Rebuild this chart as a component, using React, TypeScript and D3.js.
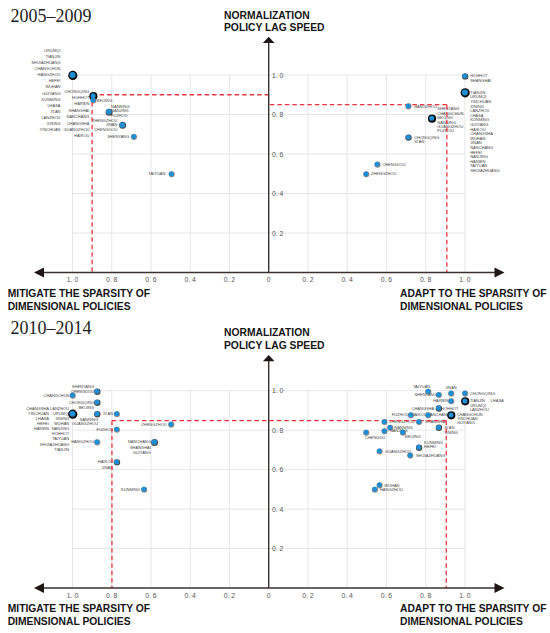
import { useEffect } from 'react';
import * as d3 from 'd3';

// [x value, y value, cities sharing that point]
type Group = [number, number, string[]];

// 2005–2009, mitigate side (plotted to the left)
const leftA: Group[] = [
  [1.0, 1.0, ['URUMQI', 'TIANJIN', 'SHIJIAZHUANG', 'CHANGCHUN', 'HANGZHOU', 'HEFEI', 'WUHAN', 'GUIYANG', 'KUNMING', 'LHASA', "XI'AN", 'LANZHOU', 'XINING', 'YINCHUAN']],
  [0.895, 0.895, ['CHONGQING', 'HOHHOT', 'HARBIN', 'SHANGHAI', 'NANCHANG', 'CHANGSHA', 'GUANGZHOU', 'HAIKOU']],
  [0.895, 0.873, ['BEIJING']],
  [0.815, 0.814, ['NANNING', 'NANJING', 'FUZHOU']],
  [0.746, 0.747, ['ZHENGZHOU', 'JINAN', 'CHENGDOU']],
  [0.688, 0.688, ['SHENYANG']],
  [0.496, 0.499, ['TAIYUAN']],
];

// 2005–2009, adapt side
const rightA: Group[] = [
  [1.0, 0.995, ['HOHHOT', 'SHANGHAI']],
  [1.0, 0.912, ['TIANJIN', 'URUMQI', 'YINCHUAN', 'XINING', 'LANZHOU', 'LHASA', 'KUNMING', 'GUIYANG', 'HAIKOU', 'CHANGSHA', 'WUHAN', 'JINAN', 'NANCHANG', 'HEFEI', 'NANJING', 'HARBIN', 'TAIYUAN', 'SHIJIAZHUANG']],
  [0.711, 0.843, ['HANGZHOU']],
  [0.831, 0.781, ['SHENYANG', 'CHANGCHUN', 'BEIJING', 'NANNING', 'GUANGZHOU', 'FUZHOU']],
  [0.711, 0.685, ['CHONGQING', "XI'AN"]],
  [0.553, 0.548, ['CHENGDOU']],
  [0.496, 0.499, ['ZHENGZHOU']],
];

// 2010–2014, mitigate side
const leftB: Group[] = [
  [0.875, 0.997, ['SHENYANG', 'CHENGDOU']],
  [1.0, 0.977, ['CHANGCHUN']],
  [0.875, 0.941, ['CHONGQING', 'BEIJING']],
  [1.0, 0.883, ['CHANGSHA', 'LANZHOU', 'YINCHUAN', 'URUMQI', 'LHASA', 'XINING', 'HEFEI', 'WUHAN', 'HARBIN', 'NANJING', 'HOHHOT', 'TAIYUAN', 'SHIJIAZHUANG', 'TIANJIN']],
  [0.875, 0.883, ['NANNING', 'GUANGZHOU']],
  [0.775, 0.883, ["XI'AN"]],
  [0.775, 0.804, ['FUZHOU']],
  [0.875, 0.74, ['HANGZHOU']],
  [0.775, 0.639, ['HAIKOU', 'JINAN']],
  [0.498, 0.83, ['ZHENGZHOU']],
  [0.583, 0.74, ['NANCHANG', 'SHANGHAI', 'GUIYANG']],
  [0.636, 0.5, ['KUNMING']],
];

// 2010–2014, adapt side
const rightB: Group[] = [
  [0.812, 0.997, ['TAIYUAN']],
  [0.929, 0.987, ['JINAN']],
  [1.0, 0.987, ['CHONGQING']],
  [0.866, 0.98, ['SHENYANG']],
  [0.929, 0.948, ['HARBIN']],
  [1.0, 0.948, ['TIANJIN', 'LHASA', 'URUMQI', 'LANZHOU']],
  [0.866, 0.912, ['CHANGSHA', 'HOHHOT']],
  [0.724, 0.877, ['FUZHOU']],
  [0.812, 0.877, ['HAIKOU']],
  [0.929, 0.877, ['NANCHANG', 'CHANGCHUN', 'YINCHUAN', 'GUIYANG']],
  [0.589, 0.843, ['ZHENGZHOU']],
  [0.765, 0.843, ['SHANGHAI']],
  [0.618, 0.814, ['NANNING']],
  [0.589, 0.796, ['NANJING']],
  [0.683, 0.789, ['BEIJING']],
  [0.496, 0.789, ['CHENGDU']],
  [0.866, 0.814, ["XI'AN", 'XINING']],
  [0.765, 0.713, ['KUNMING', 'HEFEI']],
  [0.564, 0.694, ['GUANGZHOU']],
  [0.72, 0.673, ['SHIJIAZHUANG']],
  [0.564, 0.522, ['WUHAN']],
  [0.54, 0.5, ['HANGZHOU']],
];

// average reference lines [x, y] for mitigate / adapt sides
const refsA: [number, number][] = [[0.9, 0.9], [0.908, 0.85]];
const refsB: [number, number][] = [[0.799, 0.848], [0.905, 0.848]];

const periods = ['2005–2009', '2010–2014'];
const xTicks = [-5, -4, -3, -2, -1, 0, 1, 2, 3, 4, 5].map(i => i / 5);
const yTicks = [1, 2, 3, 4, 5].map(i => i / 5);

// label placement for each group (same order as the data)
type Lay = { a: 's' | 'e' | 'm'; dx: number; dy?: number; lh?: number; split?: number; sdx?: number; pairs?: number; col?: number };

const layLA: Lay[] = [
  { a: 'e', dx: -12, dy: -24.7, lh: 6.1 },
  { a: 'e', dx: -3.7, dy: -4.7, lh: 6.4 },
  { a: 's', dx: 3.7 },
  { a: 's', dx: 2.3, dy: -5.4, lh: 4.4 },
  { a: 'e', dx: -5, dy: -4.7, lh: 4.5 },
  { a: 'e', dx: -4.4 },
  { a: 'e', dx: -6 },
];
const layRA: Lay[] = [
  { a: 's', dx: 5.3, lh: 4.4 },
  { a: 's', dx: 5.3, lh: 4.6 },
  { a: 's', dx: 6 },
  { a: 's', dx: 5.6, dy: -9.3, lh: 4.4 },
  { a: 's', dx: 6, lh: 4.5 },
  { a: 's', dx: 5 },
  { a: 's', dx: 5 },
];
const layLB: Lay[] = [
  { a: 'e', dx: -3, dy: -5, lh: 5 },
  { a: 'e', dx: -3 },
  { a: 'e', dx: -3, lh: 5.4 },
  { a: 'e', dx: -3.3, dy: -5.4, lh: 5.1, pairs: 5, col: 20.3 },
  { a: 'e', dx: 1, dy: 5.3, lh: 4.7 },
  { a: 'e', dx: -3.5 },
  { a: 'e', dx: -3.5 },
  { a: 'e', dx: -3 },
  { a: 'e', dx: -3.5, lh: 5.3 },
  { a: 'e', dx: -4.3 },
  { a: 'e', dx: -3.5, lh: 5.2 },
  { a: 'e', dx: -4 },
];
const layRB: Lay[] = [
  { a: 'e', dx: 2, dy: -5 },
  { a: 'm', dx: 0, dy: -5.3 },
  { a: 's', dx: 5 },
  { a: 'e', dx: -2 },
  { a: 'e', dx: -2.7 },
  { a: 's', dx: 5, lh: 4.2, pairs: 1, col: 20.7 },
  { a: 's', dx: 2.5, split: 1, sdx: -4.4 },
  { a: 'e', dx: -2.4 },
  { a: 'e', dx: -1 },
  { a: 's', dx: 5.7, lh: 4, split: 1, sdx: -1 },
  { a: 's', dx: 5 },
  { a: 's', dx: 6.3 },
  { a: 's', dx: 4.3 },
  { a: 's', dx: 5.7, dy: -0.6 },
  { a: 's', dx: 2.3, dy: 3.7 },
  { a: 's', dx: -1, dy: 5 },
  { a: 's', dx: 5.6, lh: 5 },
  { a: 's', dx: 5.3, dy: -5.3, lh: 4.3 },
  { a: 's', dx: 5.7 },
  { a: 's', dx: 6 },
  { a: 's', dx: 5 },
  { a: 's', dx: 5.3 },
];

const panels = [
  { title: periods[0], left: leftA, right: rightA, layL: layLA, layR: layRA, refs: refsA, titleY: 21.5, headY: 15, tipY: 36.7, oneY: 75, axisY: 272.5 },
  { title: periods[1], left: leftB, right: rightB, layL: layLB, layR: layRB, refs: refsB, titleY: 333.5, headY: 332.7, tipY: 355, oneY: 390.7, axisY: 588 },
];

const ANCHOR = { s: 'start', e: 'end', m: 'middle' } as const;
const SANS = '"Liberation Sans", Arial, sans-serif';

function placeLabels(names: string[], lay: Lay, px: number, py: number) {
  const out: { t: string; x: number; y: number; a: string }[] = [];
  const lh = lay.lh ?? 4.6;
  const dy = lay.dy ?? 0;
  let rest = names;
  if (lay.split) {
    rest.slice(0, lay.split).forEach((t, i) => out.push({ t, x: px + (lay.sdx ?? 0), y: py + dy + i * lh, a: 'end' }));
    rest = rest.slice(lay.split);
  }
  const a = ANCHOR[lay.a];
  let i = 0;
  let row = 0;
  while (i < rest.length) {
    const y = py + dy + row * lh;
    if (lay.pairs && row < lay.pairs && i + 1 < rest.length) {
      const c = lay.col ?? 20;
      const x0 = a === 'end' ? px + lay.dx - c : px + lay.dx;
      out.push({ t: rest[i], x: x0, y, a });
      out.push({ t: rest[i + 1], x: x0 + c, y, a });
      i += 2;
    } else {
      out.push({ t: rest[i], x: px + lay.dx, y, a });
      i += 1;
    }
    row += 1;
  }
  return out;
}

function Panel({ p }: { p: (typeof panels)[number] }) {
  const x = d3.scaleLinear().domain([-1, 1]).range([72.5, 464.9]);
  const y = d3.scaleLinear().domain([0, 1]).range([p.axisY, p.oneY]);
  const x0 = x(0);
  const fmt = (v: number) => (v === 0 ? '0' : d3.format('.1f')(Math.abs(v)).replace('.', '. '));

  const sides = [
    { groups: p.left, lays: p.layL, sign: -1 },
    { groups: p.right, lays: p.layR, sign: 1 },
  ];

  const red = '#e8363f';
  const axisCol = '#3b302d';

  return (
    <g>
      <text x={10.5} y={p.titleY} fontFamily='"Liberation Serif", "Times New Roman", serif' fontSize={18} fill="#222">{p.title}</text>
      <text x={224} y={p.headY} fontFamily={SANS} fontWeight="bold" fontSize={10.3} fill="#151515" dominantBaseline="central">NORMALIZATION</text>
      <text x={224} y={p.headY + 12.8} fontFamily={SANS} fontWeight="bold" fontSize={10.3} fill="#151515" dominantBaseline="central">POLICY LAG SPEED</text>

      {/* grid */}
      {xTicks.filter(t => t !== 0).map(t => (
        <line key={'gx' + t} x1={x(t)} x2={x(t)} y1={y(1)} y2={y(0)} stroke="#e3e3e3" strokeWidth={0.9} />
      ))}
      {yTicks.map(t => (
        <line key={'gy' + t} x1={x(-1)} x2={x(1)} y1={y(t)} y2={y(t)} stroke="#e3e3e3" strokeWidth={0.9} />
      ))}

      {/* city labels */}
      {sides.map((s, si) =>
        s.groups.map((g, gi) =>
          placeLabels(g[2], s.lays[gi], x(s.sign * g[0]), y(g[1])).map((l, li) => (
            <text key={`l${si}-${gi}-${li}`} x={l.x} y={l.y} textAnchor={l.a} dominantBaseline="central" fontFamily={SANS} fontSize={4} fill="#444">{l.t}</text>
          ))
        )
      )}

      {/* average lines */}
      {p.refs.map(([rx, ry], i) => {
        const xs = x((i === 0 ? -1 : 1) * rx);
        return (
          <g key={'ref' + i} stroke={red} strokeWidth={1.3} strokeDasharray="4.5 3" fill="none">
            <line x1={xs} x2={x0} y1={y(ry)} y2={y(ry)} />
            <line x1={xs} x2={xs} y1={y(ry)} y2={y(0)} />
          </g>
        );
      })}

      {/* axes */}
      <line x1={x0} x2={x0} y1={y(0)} y2={p.tipY + 4} stroke={axisCol} strokeWidth={1.4} />
      <path d={`M${x0},${p.tipY} L${x0 - 5.8},${p.tipY + 6.2} L${x0 + 5.8},${p.tipY + 6.2} Z`} fill="#1e1614" />
      <line x1={38} x2={500} y1={y(0)} y2={y(0)} stroke={axisCol} strokeWidth={1.4} />
      <path d={`M34,${y(0)} L44,${y(0) - 5} L44,${y(0) + 5} Z`} fill="#1e1614" />
      <path d={`M504.5,${y(0)} L494.5,${y(0) - 5} L494.5,${y(0) + 5} Z`} fill="#1e1614" />

      {xTicks.map(t => (
        <text key={'tx' + t} x={x(t)} y={y(0) + 7} textAnchor="middle" dominantBaseline="central" fontFamily={SANS} fontSize={6.8} fill="#555">{fmt(t)}</text>
      ))}
      {yTicks.map(t => (
        <text key={'ty' + t} x={x0 + 3.3} y={y(t)} dominantBaseline="central" fontFamily={SANS} fontSize={6.8} fill="#555">{fmt(t)}</text>
      ))}

      <text x={7.7} y={y(0) + 20.6} fontFamily={SANS} fontWeight="bold" fontSize={10.3} fill="#151515" dominantBaseline="central">MITIGATE THE SPARSITY OF</text>
      <text x={7.7} y={y(0) + 33.9} fontFamily={SANS} fontWeight="bold" fontSize={10.3} fill="#151515" dominantBaseline="central">DIMENSIONAL POLICIES</text>
      <text x={400} y={y(0) + 20.6} fontFamily={SANS} fontWeight="bold" fontSize={10.3} fill="#151515" dominantBaseline="central">ADAPT TO THE SPARSITY OF</text>
      <text x={400} y={y(0) + 33.9} fontFamily={SANS} fontWeight="bold" fontSize={10.3} fill="#151515" dominantBaseline="central">DIMENSIONAL POLICIES</text>

      {/* city points: shared points get a darker rim */}
      {sides.map((s, si) =>
        s.groups.map((g, gi) => {
          const n = g[2].length;
          const cx = x(s.sign * g[0]);
          const cy = y(g[1]);
          const r = n >= 10 ? 3.6 : n >= 4 ? 3.1 : n === 3 ? 2.8 : 2.5;
          const ring = n >= 4 ? '#0e0e0e' : n >= 2 ? '#2f2825' : '#6e5d50';
          const grow = n >= 4 ? 1 : n >= 2 ? 0.7 : 0.55;
          return (
            <g key={`p${si}-${gi}`}>
              <circle cx={cx + 0.3} cy={cy + 0.4} r={r + grow} fill={ring} opacity={n >= 4 ? 1 : n >= 2 ? 0.85 : 0.7} />
              <circle cx={cx} cy={cy} r={n >= 4 ? r - 0.6 : r} fill="#1e8fd5" />
            </g>
          );
        })
      )}
    </g>
  );
}

export default function App() {
  useEffect(() => {
    document.body.style.margin = '0';
  }, []);

  return (
    <svg width={550} height={633} viewBox="0 0 550 633" style={{ display: 'block', background: '#fff' }}>
      {panels.map((p, i) => (
        <Panel key={i} p={p} />
      ))}
    </svg>
  );
}
